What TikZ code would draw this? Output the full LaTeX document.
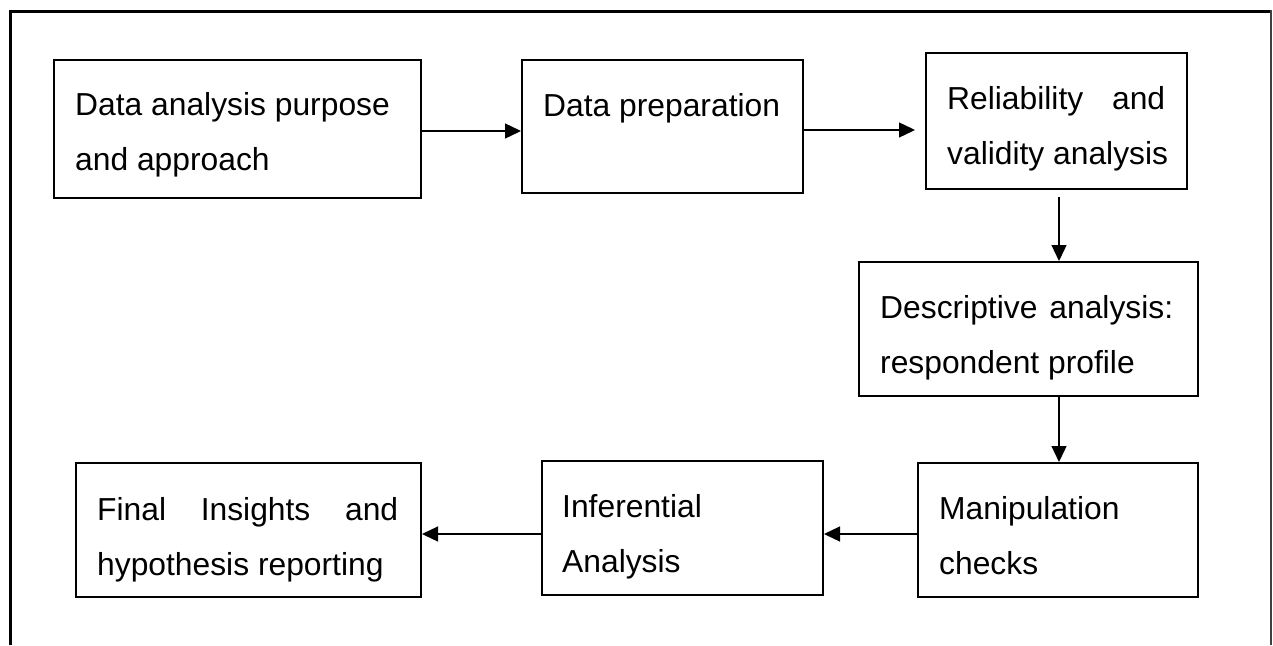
\documentclass[tikz,border=0pt]{standalone}
\usepackage{fontspec}
\setmainfont{Liberation Sans}
\usetikzlibrary{arrows.meta,calc}
\begin{document}
\begin{tikzpicture}[x=1pt,y=-1pt,
  stepbox/.style={draw=black,line width=2pt,rectangle,inner sep=0pt,anchor=north west},
  boxtext/.style={inner sep=0pt,anchor=base west,font=\fontsize{31.8}{55}\selectfont},
  arr/.style={line width=1.3pt,-{Triangle[length=16pt,width=15pt]}}]
\useasboundingbox (0,0) rectangle (1273,645);
% outer frame (open at the bottom)
\draw[line width=3pt] (10.5,645) -- (10.5,11.5) -- (1271,11.5);
\draw[line width=1.5pt,black!75] (1271,10) -- (1271,645);
% boxes
\node[stepbox,minimum width=367pt,minimum height=138pt] (b1) at (53,59) {};
\node[stepbox,minimum width=281pt,minimum height=133pt] (b2) at (521,59) {};
\node[stepbox,minimum width=261pt,minimum height=136pt] (b3) at (925,52) {};
\node[stepbox,minimum width=339pt,minimum height=134pt] (b4) at (858,261) {};
\node[stepbox,minimum width=280pt,minimum height=134pt] (b5) at (917,462) {};
\node[stepbox,minimum width=281pt,minimum height=134pt] (b6) at (541,460) {};
\node[stepbox,minimum width=345pt,minimum height=134pt] (b7) at (75,462) {};
% texts
\node[boxtext] (t1) at ($(b1.north west)+(22,56)$) {\parbox[t]{330pt}{Data analysis purpose\\and approach}};
\node[boxtext] (t2) at ($(b2.north west)+(22,57)$) {\parbox[t]{250pt}{Data preparation}};
\node[boxtext] (t3) at ($(b3.north west)+(22,57)$) {\parbox[t]{230pt}{\makebox[218pt][s]{Reliability and}\\validity analysis}};
\node[boxtext] (t4) at ($(b4.north west)+(22,57)$) {\parbox[t]{300pt}{\makebox[293pt][s]{Descriptive analysis:}\\respondent profile}};
\node[boxtext] (t5) at ($(b5.north west)+(22,57)$) {\parbox[t]{250pt}{Manipulation\\checks}};
\node[boxtext] (t6) at ($(b6.north west)+(21,57)$) {\parbox[t]{250pt}{Inferential\\Analysis}};
\node[boxtext] (t7) at ($(b7.north west)+(22,58)$) {\parbox[t]{310pt}{\makebox[301pt][s]{Final Insights and}\\hypothesis reporting}};
% connectors
\draw[arr] (b1.east |- 0,131) -- (b2.west |- 0,131);
\draw[arr,shorten >=10pt] (b2.east |- 0,130) -- (b3.west |- 0,130);
\draw[arr,shorten <=7pt] (b3.south -| 1059,0) -- (b4.north -| 1059,0);
\draw[arr] (b4.south -| 1059,0) -- (b5.north -| 1059,0);
\draw[arr] (b5.west |- 0,534) -- (b6.east |- 0,534);
\draw[arr] (b6.west |- 0,534) -- (b7.east |- 0,534);
\end{tikzpicture}
\end{document}
